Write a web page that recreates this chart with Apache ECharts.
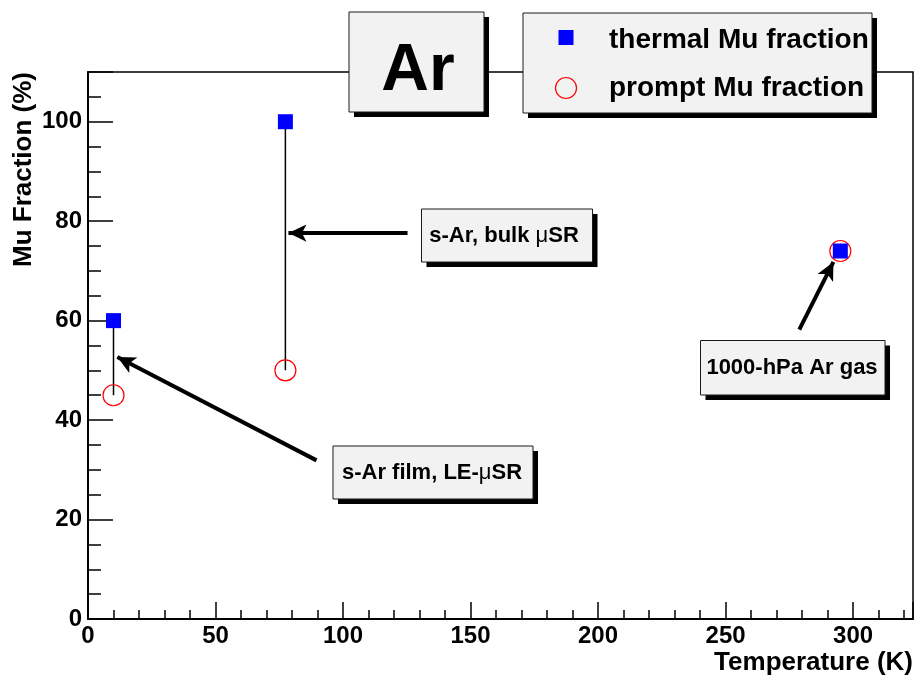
<!DOCTYPE html>
<html>
<head>
<meta charset="utf-8">
<title>Ar – Mu fraction vs temperature</title>
<script src="https://cdn.jsdelivr.net/npm/echarts@6/dist/echarts.min.js"></script>
<style>
  html, body { margin: 0; padding: 0; background: #ffffff; }
  #chart { width: 916px; height: 676px; }
</style>
</head>
<body>
<div id="chart"></div>
<script>
// Measured muonium fractions in argon
const temperatures = [10, 77.4, 295];        // K
const thermalFraction = [60, 100, 74];       // %
const promptFraction = [45, 50, 74];         // %

// Tick labels shown on the axes
const xTickLabels = [0, 50, 100, 150, 200, 250, 300];
const yTickLabels = [0, 20, 40, 60, 80, 100];

// Annotation arrows in data units: [fromT, fromFrac, toT, toFrac]
const arrowBulk = [125.3, 77.6, 78.6, 77.6];
const arrowFilm = [89.6, 31.9, 11.5, 52.7];
const arrowGas = [278.9, 58.2, 292.3, 71.8];

const FONT = '"Liberation Sans", Arial, Helvetica, sans-serif';
const X_MAX = 323.5;
const Y_MAX = 110;

const chart = echarts.init(document.getElementById('chart'), null, { renderer: 'canvas' });

// thin vertical bar joining the thermal and prompt value at each temperature
const linkSeries = temperatures.map((t, i) => ({
  type: 'line',
  name: 'link' + i,
  data: [[t, thermalFraction[i]], [t, promptFraction[i]]],
  symbol: 'none',
  lineStyle: { color: '#000000', width: 1.5 },
  silent: true,
  z: 2
}));

function arrowSegment(a) {
  return [
    { coord: [a[0], a[1]], symbol: 'none' },
    { coord: [a[2], a[3]], symbol: 'arrow', symbolSize: [13, 18] }
  ];
}

// Box with a hard drop shadow, ROOT "pave" style
function paveBox(x, y, w, h, children) {
  return {
    type: 'group',
    z: 50,
    children: [
      { type: 'rect', shape: { x: x + 5, y: y + 5, width: w, height: h }, style: { fill: '#000000' } },
      { type: 'rect', shape: { x: x, y: y, width: w, height: h }, style: { fill: '#f2f2f2', stroke: '#1a1a1a', lineWidth: 1 } }
    ].concat(children)
  };
}

function boxText(cx, cy, text, size) {
  return {
    type: 'text',
    x: cx, y: cy,
    style: {
      text: text,
      align: 'center', verticalAlign: 'middle',
      fontFamily: FONT, fontWeight: 'bold', fontSize: size, fill: '#000000',
      rich: { mu: { fontFamily: FONT, fontWeight: 'normal', fontSize: size, fill: '#000000' } }
    }
  };
}

const option = {
  animation: false,
  backgroundColor: '#ffffff',
  textStyle: { fontFamily: FONT },
  grid: {
    left: 88, top: 72, right: 2, bottom: 57,
    show: true, borderColor: '#000000', borderWidth: 1.5, backgroundColor: 'transparent'
  },
  xAxis: [
    {
      type: 'value', min: 0, max: X_MAX, interval: 50, position: 'bottom',
      axisLine: { show: true, onZero: false, lineStyle: { color: '#000000', width: 2 } },
      axisTick: { show: true, inside: true, length: 17, lineStyle: { color: '#000000', width: 1.5 } },
      axisLabel: {
        formatter: v => (xTickLabels.indexOf(v) >= 0 ? String(v) : ''),
        fontSize: 24, fontWeight: 'bold', color: '#000000', fontFamily: FONT, margin: 5
      },
      splitLine: { show: false }
    },
    {
      type: 'value', min: 0, max: X_MAX, interval: 10, position: 'bottom',
      axisLine: { show: false },
      axisTick: { show: true, inside: true, length: 9, lineStyle: { color: '#000000', width: 1.5 } },
      axisLabel: { show: false },
      splitLine: { show: false }
    }
  ],
  yAxis: [
    {
      type: 'value', min: 0, max: Y_MAX, interval: 20, position: 'left',
      axisLine: { show: true, onZero: false, lineStyle: { color: '#000000', width: 2 } },
      axisTick: { show: true, inside: true, length: 25, lineStyle: { color: '#000000', width: 1.5 } },
      axisLabel: {
        formatter: v => (yTickLabels.indexOf(v) >= 0 ? String(v) : ''),
        fontSize: 24, fontWeight: 'bold', color: '#000000', fontFamily: FONT, margin: 6
      },
      splitLine: { show: false }
    },
    {
      type: 'value', min: 0, max: Y_MAX, interval: 5, position: 'left',
      axisLine: { show: false },
      axisTick: { show: true, inside: true, length: 13, lineStyle: { color: '#000000', width: 1.5 } },
      axisLabel: { show: false },
      splitLine: { show: false }
    }
  ],
  series: linkSeries.concat([
    {
      type: 'scatter',
      name: 'prompt Mu fraction',
      data: temperatures.map((t, i) => [t, promptFraction[i]]),
      symbol: 'circle',
      symbolSize: 21,
      itemStyle: { color: 'rgba(0,0,0,0)', borderColor: '#ff0000', borderWidth: 1.2, opacity: 1 },
      z: 3
    },
    {
      type: 'scatter',
      name: 'thermal Mu fraction',
      data: temperatures.map((t, i) => [t, thermalFraction[i]]),
      symbol: 'rect',
      symbolSize: 15,
      itemStyle: { color: '#0000ff', opacity: 1 },
      z: 4,
      markLine: {
        silent: true,
        animation: false,
        label: { show: false },
        lineStyle: { color: '#000000', width: 4, type: 'solid', opacity: 1 },
        emphasis: { disabled: true },
        data: [arrowSegment(arrowBulk), arrowSegment(arrowFilm), arrowSegment(arrowGas)]
      }
    }
  ]),
  graphic: [
    // axis titles
    {
      type: 'text', x: 913, y: 663, z: 40,
      style: { text: 'Temperature (K)', align: 'right', verticalAlign: 'middle',
        fontFamily: FONT, fontWeight: 'bold', fontSize: 26, fill: '#000000' }
    },
    {
      type: 'text', x: 24, y: 72, rotation: Math.PI / 2, z: 40,
      style: { text: 'Mu Fraction (%)', align: 'right', verticalAlign: 'middle',
        fontFamily: FONT, fontWeight: 'bold', fontSize: 26, fill: '#000000' }
    },
    // title box
    paveBox(349, 12, 135, 100, [boxText(418, 72, 'Ar', 66)]),
    // legend
    paveBox(523, 13, 349, 100, [
      { type: 'rect', shape: { x: 558.5, y: 30, width: 15, height: 15 }, style: { fill: '#0000ff' } },
      { type: 'text', x: 609, y: 40, style: { text: 'thermal Mu fraction', align: 'left', verticalAlign: 'middle',
        fontFamily: FONT, fontWeight: 'bold', fontSize: 28, fill: '#000000' } },
      { type: 'circle', shape: { cx: 566, cy: 88, r: 10.5 }, style: { fill: 'none', stroke: '#ff0000', lineWidth: 1.2 } },
      { type: 'text', x: 609, y: 88, style: { text: 'prompt Mu fraction', align: 'left', verticalAlign: 'middle',
        fontFamily: FONT, fontWeight: 'bold', fontSize: 28, fill: '#000000' } }
    ]),
    // annotation boxes
    paveBox(421.5, 209, 171, 53, [boxText(504, 236, 's-Ar, bulk {mu|μ}SR', 22)]),
    paveBox(333, 446, 200, 53, [boxText(432, 473, 's-Ar film, LE-{mu|μ}SR', 22)]),
    paveBox(700.5, 340.5, 184.5, 54.5, [boxText(792, 368, '1000-hPa Ar gas', 22)])
  ]
};

chart.setOption(option);
</script>
</body>
</html>
